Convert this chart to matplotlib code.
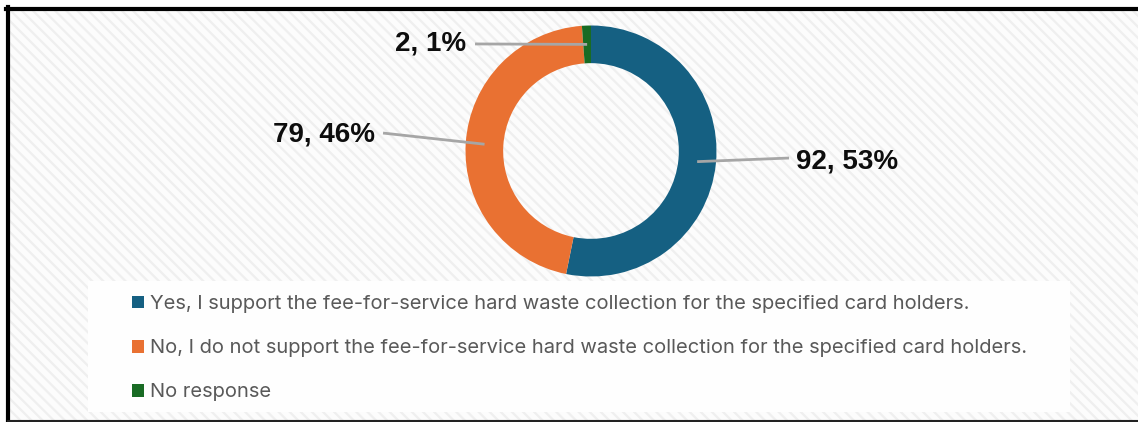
import matplotlib
matplotlib.use("Agg")
from matplotlib import pyplot as plt
from matplotlib.patches import Rectangle
from matplotlib.lines import Line2D
import numpy as np

# survey answers
labels = ["Yes, I support the fee-for-service hard waste collection for the specified card holders.",
          "No, I do not support the fee-for-service hard waste collection for the specified card holders.",
          "No response"]
counts = [92, 79, 2]
colors = ["#156082", "#E97132", "#196B24"]

plt.rcParams["hatch.linewidth"] = 1.6

W, H = 1138, 422
fig = plt.figure(figsize=(W / 100, H / 100), dpi=100)
fig.patch.set_facecolor("white")

def fx(px):
  return px / W

def fy(py):
  return 1 - py / H

#hatched background inside the frame
bg = Rectangle((fx(8), 0), 1, fy(8), transform=fig.transFigure, facecolor="#fcfcfc",
               edgecolor="#efefef", linewidth=0, hatch="\\\\\\", zorder=-3)
fig.patches.append(bg)

#white legend panel
panel = Rectangle((fx(88), fy(412)), fx(1070) - fx(88), fy(281) - fy(412), transform=fig.transFigure,
                  facecolor="#fefefe", edgecolor="none", zorder=-2)
fig.patches.append(panel)

#frame
fig.lines.append(Line2D([fx(6), 1], [fy(8.5), fy(8.5)], transform=fig.transFigure, color="black", lw=3.0))
fig.lines.append(Line2D([fx(8), fx(8)], [fy(7), 0], transform=fig.transFigure, color="black", lw=3.0))
fig.lines.append(Line2D([fx(8), 1], [fy(421), fy(421)], transform=fig.transFigure, color="#222222", lw=1.5))

#donut axes, 1 data unit = R pixels
cx, cy, R = 591, 151, 125.5
half = 130
ax = fig.add_axes([fx(cx - half), fy(cy + half), 2 * half / W, 2 * half / H])
ax.patch.set_visible(False)
ax.axis("off")

wedges, _ = ax.pie(counts, colors=colors, startangle=90, counterclock=False,
                   wedgeprops=dict(width=0.3, edgecolor="none"), radius=1)
ax.set_xlim(-half / R, half / R)
ax.set_ylim(-half / R, half / R)

total = sum(counts)
# label positions (text anchor, line end) in donut units
label_pos = [((1.633, -0.08), (1.578, -0.056), "left"),
             ((-1.721, 0.135), (-1.657, 0.143), "right"),
             ((-0.996, 0.853), (-0.924, 0.853), "right")]
for w, n, (tpos, lend, ha) in zip(wedges, counts, label_pos):
  ang = np.deg2rad((w.theta1 + w.theta2) / 2)
  x0, y0 = 0.85 * np.cos(ang), 0.85 * np.sin(ang)
  ax.plot([x0, lend[0]], [y0, lend[1]], color="#a6a6a6", lw=2.0, clip_on=False, solid_capstyle="butt")
  ax.text(tpos[0], tpos[1], "{}, {}%".format(n, round(100 * n / total)), ha=ha, va="center",
          fontsize=20, fontweight="bold", family="Liberation Sans", color="#0d0d0d", clip_on=False)

leg = fig.legend(wedges, labels, loc="upper left", bbox_to_anchor=(fx(122), fy(285)),
                 frameon=False, handlelength=0.6, handleheight=0.6,
                 handletextpad=0.3, labelspacing=1.3, borderpad=0,
                 prop=dict(family="Inter", size=14.5))
for t in leg.get_texts():
  t.set_color("#595959")

fig.savefig("out.png", dpi=100)
